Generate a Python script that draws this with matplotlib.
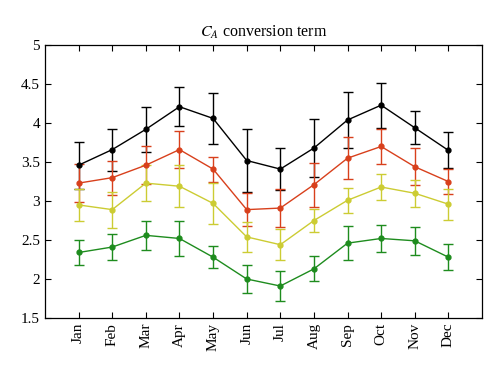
import matplotlib
matplotlib.use("Agg")
import matplotlib.pyplot as plt
import numpy as np

months = ["Jan", "Feb", "Mar", "Apr", "May", "Jun", "Jul", "Aug", "Sep", "Oct", "Nov", "Dec"]

black_vals = [3.46, 3.66, 3.92, 4.21, 4.06, 3.52, 3.41, 3.68, 4.04, 4.23, 3.94, 3.65]
black_err = [0.30, 0.27, 0.29, 0.25, 0.33, 0.40, 0.27, 0.37, 0.36, 0.29, 0.21, 0.23]

red_vals = [3.23, 3.30, 3.46, 3.66, 3.41, 2.89, 2.91, 3.21, 3.55, 3.70, 3.44, 3.25]
red_err = [0.24, 0.22, 0.24, 0.24, 0.16, 0.21, 0.24, 0.28, 0.27, 0.22, 0.24, 0.16]

yellow_vals = [2.95, 2.89, 3.23, 3.19, 2.97, 2.54, 2.44, 2.75, 3.01, 3.18, 3.10, 2.96]
yellow_err = [0.20, 0.23, 0.23, 0.27, 0.26, 0.19, 0.20, 0.15, 0.16, 0.17, 0.17, 0.20]

green_vals = [2.34, 2.41, 2.56, 2.52, 2.28, 2.00, 1.91, 2.13, 2.46, 2.52, 2.49, 2.28]
green_err = [0.16, 0.17, 0.19, 0.23, 0.14, 0.18, 0.19, 0.16, 0.22, 0.17, 0.18, 0.17]

series = [
    (black_vals, black_err, "#000000"),
    (red_vals, red_err, "#d8401c"),
    (yellow_vals, yellow_err, "#cccc33"),
    (green_vals, green_err, "#1e8c1e"),
]

plt.rcParams["font.family"] = ["Liberation Serif", "DejaVu Serif"]
plt.rcParams["mathtext.fontset"] = "stix"

fig = plt.figure(figsize=(5, 3.73), dpi=100)
ax = fig.add_axes([0.09, 0.1475, 0.874, 0.7315])

x = np.arange(1, len(months) + 1)
for vals, err, col in series:
    ax.errorbar(x, vals, yerr=err, color=col, ecolor=col, lw=1.0, elinewidth=1.0,
                capsize=3.5, capthick=1.0, marker="o", markersize=3.5)

ax.set_xlim(0, 13)
ax.set_ylim(1.5, 5)
ax.set_yticks(np.arange(1.5, 5.01, 0.5))
ax.set_yticklabels(["1.5", "2", "2.5", "3", "3.5", "4", "4.5", "5"])
ax.set_xticks(x)
ax.set_xticklabels(months, rotation=90)
ax.tick_params(direction="in", top=True, right=True, labelsize=11, length=4, width=0.8)
for s in ax.spines.values():
    s.set_linewidth(0.9)
ax.set_title(r"$C_A$ conversion term", fontsize=11.5, pad=6)

fig.savefig("out.png", dpi=100)
